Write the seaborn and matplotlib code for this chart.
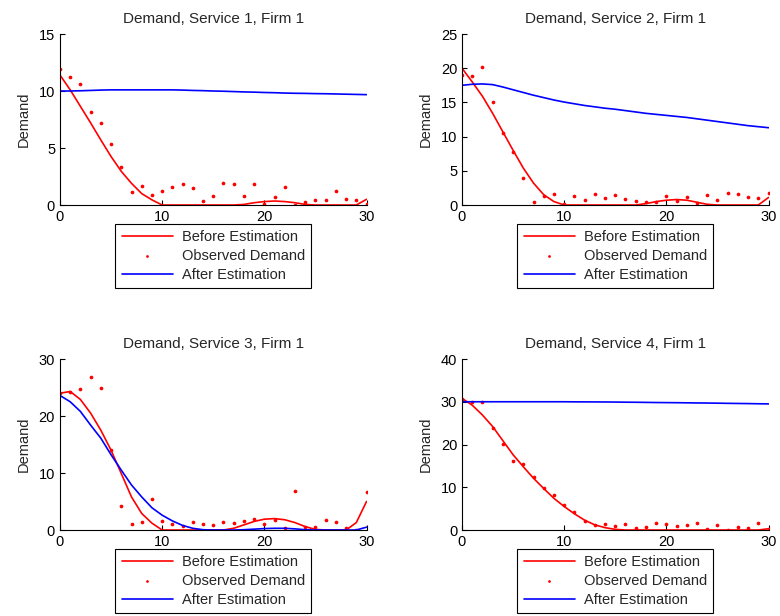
import numpy as np
import pandas as pd
import seaborn as sns
import matplotlib.pyplot as plt

# periods 0..30
periods = list(range(31))

# Service 1
before_1 = [11.4, 10.1, 8.65, 7.2, 5.7, 4.25, 2.95, 1.9, 1.0, 0.45, 0.0, 0.0, 0.0, 0.0, 0.0, 0.0,
            0.0, 0.0, 0.05, 0.2, 0.3, 0.35, 0.3, 0.2, 0.05, 0.0, 0.0, 0.0, 0.0, 0.0, 0.5]
observed_1 = [11.9, 11.2, 10.6, 8.15, 7.2, 5.35, 3.35, 1.1, 1.65, 0.9, 1.2, 1.6, 1.85, 1.45, 0.35, 0.8,
              1.9, 1.85, 0.8, 1.8, 0.1, 0.7, 1.6, 0.0, 0.25, 0.4, 0.4, 1.2, 0.55, 0.4, 0.05]
after_1 = [10.0, 10.0, 10.02, 10.05, 10.08, 10.1, 10.1, 10.1, 10.1, 10.1, 10.1, 10.1, 10.08, 10.05, 10.03, 10.0,
           9.98, 9.95, 9.92, 9.9, 9.87, 9.85, 9.82, 9.8, 9.79, 9.77, 9.76, 9.74, 9.72, 9.7, 9.68]

# Service 2
before_2 = [20.0, 18.0, 15.9, 13.4, 10.7, 8.0, 5.4, 3.2, 1.5, 0.5, 0.0, 0.0, 0.0, 0.0, 0.0, 0.0,
            0.0, 0.0, 0.2, 0.5, 0.7, 0.8, 0.7, 0.4, 0.1, 0.0, 0.0, 0.0, 0.0, 0.0, 1.1]
observed_2 = [19.0, 18.8, 20.2, 15.0, 10.6, 7.8, 3.95, 0.4, 1.35, 1.65, 0.1, 1.35, 0.8, 1.65, 1.0, 1.45,
              0.85, 0.6, 0.4, 0.45, 1.35, 0.6, 1.1, 0.35, 1.4, 0.8, 1.7, 1.65, 1.2, 1.0, 1.8]
after_2 = [17.5, 17.65, 17.7, 17.6, 17.25, 16.85, 16.45, 16.05, 15.7, 15.35, 15.05, 14.8, 14.55, 14.35, 14.15, 14.0,
           13.8, 13.6, 13.4, 13.25, 13.1, 12.95, 12.8, 12.6, 12.4, 12.2, 12.0, 11.8, 11.6, 11.45, 11.3]

# Service 3
before_3 = [24.0, 24.3, 22.9, 20.5, 17.5, 14.0, 9.9, 5.8, 2.9, 1.2, 0.0, 0.0, 0.0, 0.0, 0.0, 0.0,
            0.0, 0.3, 0.9, 1.5, 1.9, 2.0, 1.8, 1.3, 0.6, 0.1, 0.0, 0.0, 0.0, 1.3, 5.0]
observed_3 = [24.1, 24.2, 24.7, 26.9, 25.0, 14.1, 4.15, 1.0, 1.4, 5.45, 1.65, 1.1, 0.65, 1.4, 1.05, 0.9,
              1.4, 1.25, 1.6, 1.85, 1.05, 1.7, 0.35, 6.85, 0.45, 0.45, 1.7, 1.45, 0.3, 0.0, 6.7]
after_3 = [23.6, 22.5, 20.8, 18.4, 16.1, 13.2, 10.5, 7.9, 5.8, 3.9, 2.6, 1.6, 0.8, 0.3, 0.05, 0.0,
           0.0, 0.0, 0.05, 0.15, 0.25, 0.3, 0.3, 0.2, 0.05, 0.0, 0.0, 0.0, 0.0, 0.0, 0.5]

# Service 4
before_4 = [30.8, 29.2, 26.9, 24.2, 20.9, 17.6, 14.8, 12.1, 9.7, 7.4, 5.5, 3.8, 2.3, 1.2, 0.55, 0.15,
            0.0, 0.0, 0.0, 0.0, 0.0, 0.0, 0.0, 0.0, 0.0, 0.0, 0.0, 0.0, 0.0, 0.0, 0.3]
observed_4 = [30.7, 29.9, 29.9, 23.8, 20.2, 16.25, 15.5, 12.4, 9.9, 8.1, 5.9, 4.3, 2.1, 1.25, 1.5, 1.0,
              1.3, 0.4, 0.7, 1.55, 1.3, 0.85, 1.1, 1.55, 0.15, 1.15, 0.1, 0.8, 0.55, 1.7, 0.15]
after_4 = [30.0, 30.0, 30.0, 30.0, 30.0, 30.0, 30.0, 30.0, 30.0, 30.0, 30.0, 29.98, 29.97, 29.96, 29.95, 29.93,
           29.9, 29.88, 29.85, 29.82, 29.8, 29.78, 29.75, 29.72, 29.7, 29.67, 29.63, 29.6, 29.57, 29.53, 29.5]

services = [
    (before_1, observed_1, after_1, 15, 5),
    (before_2, observed_2, after_2, 25, 5),
    (before_3, observed_3, after_3, 30, 10),
    (before_4, observed_4, after_4, 40, 10),
]

sns.set_theme(style="ticks")
plt.rcParams['font.family'] = ['Liberation Sans', 'DejaVu Sans']
plt.rcParams['xtick.direction'] = 'in'
plt.rcParams['ytick.direction'] = 'in'

fig = plt.figure(figsize=(7.8, 6.16), dpi=100)
lefts = [0.0769, 0.5923, 0.0769, 0.5923]
bottoms = [0.6672, 0.6672, 0.1396, 0.1396]

for i, (before, observed, after, ymax, ystep) in enumerate(services):
    ax = fig.add_axes([lefts[i], bottoms[i], 0.393, 0.2776])
    sns.lineplot(x=periods, y=before, color='red', linewidth=1.2, ax=ax, label='Before Estimation')
    sns.scatterplot(x=periods, y=observed, color='red', marker='o', s=7, linewidth=0, ax=ax,
                    label='Observed Demand')
    sns.lineplot(x=periods, y=after, color='blue', linewidth=1.2, ax=ax, label='After Estimation')
    ax.set_xlim(0, 30)
    ax.set_ylim(0, ymax)
    ax.set_xticks([0, 10, 20, 30])
    ax.set_yticks(np.arange(0, ymax + 1, ystep))
    ax.tick_params(labelsize=10.5, length=3.5, width=0.8, colors='black')
    ax.set_title('Demand, Service %d, Firm 1' % (i + 1), fontsize=11, pad=8)
    ax.set_ylabel('Demand', fontsize=10.5, labelpad=6)
    sns.despine(ax=ax)
    for s in ['left', 'bottom']:
        ax.spines[s].set_linewidth(0.8)
        ax.spines[s].set_color('black')
    leg = ax.legend(loc='upper center', bbox_to_anchor=(0.5, -0.11), borderaxespad=0,
                    fancybox=False, edgecolor='black', fontsize=10.5, handlelength=3.5,
                    labelspacing=0.32, borderpad=0.45, handletextpad=0.6, markerscale=0.75)
    leg.get_frame().set_linewidth(0.8)
    leg.get_frame().set_alpha(1)

fig.savefig('out.png', dpi=100)
